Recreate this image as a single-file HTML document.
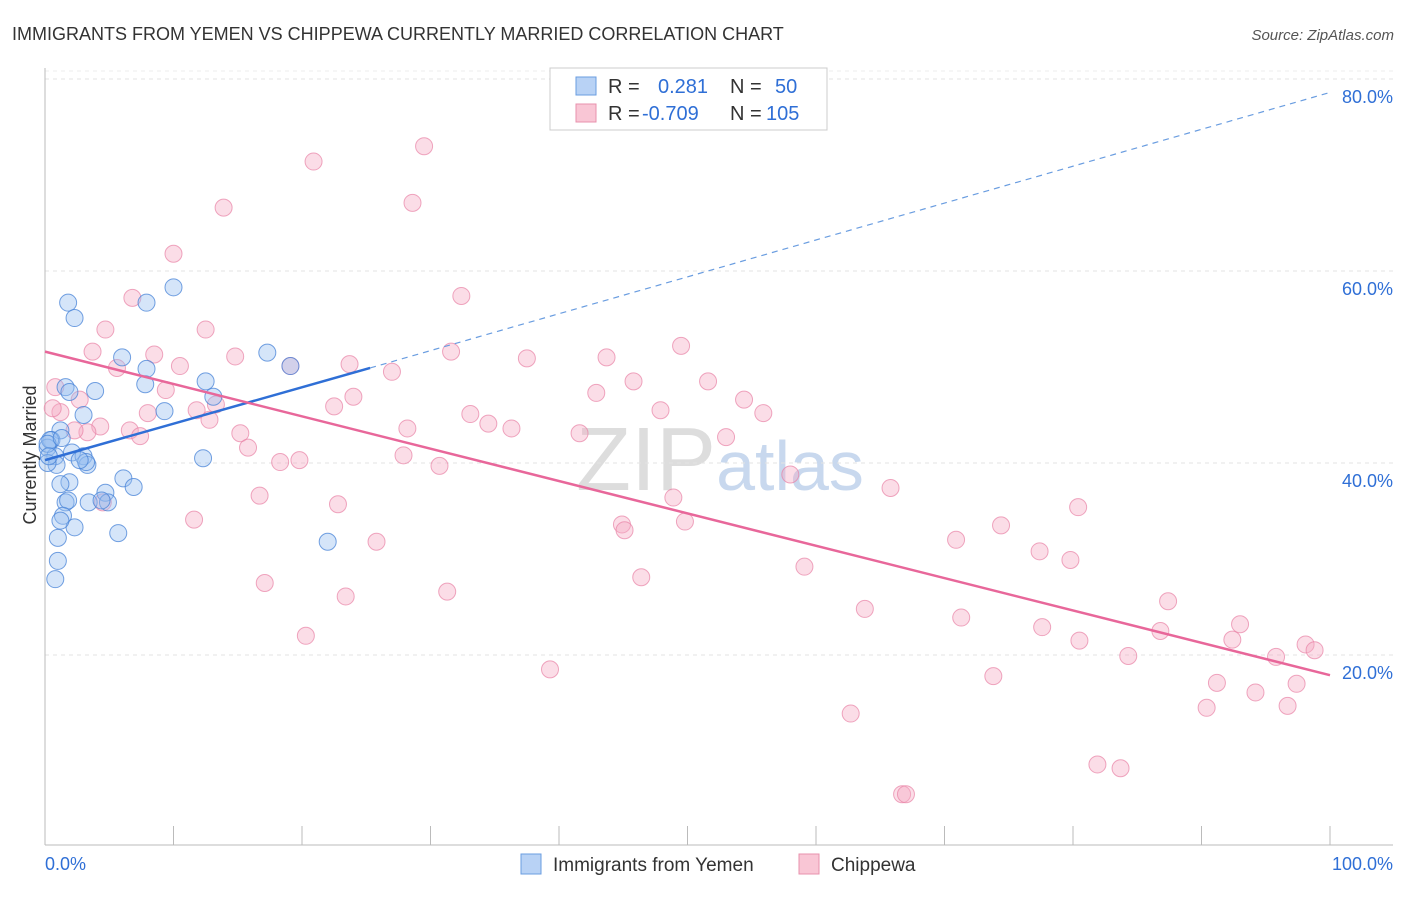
<!DOCTYPE html>
<html><head><meta charset="utf-8"><style>
body{margin:0;background:#fff;font-family:"Liberation Sans",sans-serif}
svg text{font-family:"Liberation Sans",sans-serif}
</style></head><body>
<svg width="1406" height="892" id="c">
<text x="12" y="40" font-size="18" fill="#333">IMMIGRANTS FROM YEMEN VS CHIPPEWA CURRENTLY MARRIED CORRELATION CHART</text>
<text x="1394" y="40" font-size="15" fill="#555" font-style="italic" text-anchor="end">Source: ZipAtlas.com</text>
<text x="720" y="490" font-size="90" fill="#ddd" text-anchor="middle" font-family="Liberation Serif">ZIP<tspan fill="#c8d8ee" font-family="Liberation Sans" font-size="70">atlas</tspan></text>
<g id="grid"></g>
<g id="pts"></g>
<g id="lines"></g>
<text x="36" y="455" font-size="18" fill="#333" text-anchor="middle" transform="rotate(-90 36 455)">Currently Married</text>
<g>
<rect x="550" y="68" width="277" height="62" fill="#fff" stroke="#ccc"/>
<rect x="576" y="77" width="20" height="18" fill="#b8d2f5" stroke="#6a9de0"/>
<rect x="576" y="104" width="20" height="18" fill="#f9c6d5" stroke="#e891ad"/>
<text x="608" y="93" font-size="20" fill="#333">R = <tspan fill="#2f6fd6" x="658">0.281</tspan><tspan x="730" fill="#333">N =</tspan><tspan x="775" fill="#2f6fd6">50</tspan></text>
<text x="608" y="120" font-size="20" fill="#333">R = <tspan fill="#2f6fd6" x="642">-0.709</tspan><tspan x="730" fill="#333">N =</tspan><tspan x="766" fill="#2f6fd6">105</tspan></text>
</g>
<g>
<rect x="521" y="854" width="20" height="20" fill="#b8d2f5" stroke="#6a9de0"/>
<text x="553" y="871" font-size="19" fill="#333">Immigrants from Yemen</text>
<rect x="799" y="854" width="20" height="20" fill="#f9c6d5" stroke="#e891ad"/>
<text x="831" y="871" font-size="19" fill="#333">Chippewa</text>
</g>
</svg>
<script>
const yTicks=[20,40,60,80];
const yTickLabels=["20.0%","40.0%","60.0%","80.0%"];
const xTicks=[0,10,20,30,40,50,60,70,80,90,100];
const xEndLabels=["0.0%","100.0%"];
const yemenX=[1.8,2.3,7.9,10.0,6.0,17.3,19.1,7.9,7.8,12.5,13.1,3.9,1.6,1.9,3.0,9.3,1.2,0.5,0.2,0.8,2.1,3.0,3.3,3.2,0.9,0.2,12.3,6.1,6.9,1.9,1.2,4.7,4.9,3.4,1.6,1.8,1.4,2.3,1.2,5.7,1.0,22.0,1.0,0.8,0.4,0.2,0.3,2.7,4.4,1.3];
const yemenY=[56.7,55.1,56.7,58.3,51.0,51.5,50.1,49.8,48.2,48.5,46.9,47.5,47.9,47.4,45.0,45.4,43.4,42.4,41.6,40.7,41.1,40.7,39.8,40.1,39.8,40.0,40.5,38.4,37.5,38.0,37.8,36.9,35.9,35.9,35.9,36.1,34.5,33.3,34.0,32.7,32.2,31.8,29.8,27.9,42.4,42.0,40.7,40.3,36.1,42.6];
const chipX=[29.5,20.9,28.6,13.9,10.0,32.4,6.8,4.7,12.5,3.7,8.5,14.8,10.5,5.6,19.1,23.7,27.0,31.6,37.5,43.7,49.5,42.9,45.8,51.6,54.4,55.9,47.9,33.1,34.5,36.3,24.0,22.5,13.3,11.8,12.8,9.4,8.0,6.6,7.4,4.3,3.3,2.3,1.2,0.8,0.6,2.7,15.2,15.8,28.2,18.3,19.8,27.9,30.7,41.6,53.0,58.0,65.8,48.9,44.9,45.1,49.8,16.7,22.8,11.6,4.5,25.8,70.9,74.4,80.4,77.4,79.8,59.1,46.4,17.1,23.4,31.3,20.3,63.8,71.3,77.6,80.5,87.4,86.8,93.0,92.4,84.3,95.8,98.1,98.8,73.8,39.3,91.2,94.2,97.4,90.4,96.7,62.7,81.9,83.7,66.7,67.0];
const chipY=[73.0,71.4,67.1,66.6,61.8,57.4,57.2,53.9,53.9,51.6,51.3,51.1,50.1,49.9,50.1,50.3,49.5,51.6,50.9,51.0,52.2,47.3,48.5,48.5,46.6,45.2,45.5,45.1,44.1,43.6,46.9,45.9,46.1,45.5,44.5,47.6,45.2,43.4,42.8,43.8,43.2,43.4,45.3,47.9,45.7,46.6,43.1,41.6,43.6,40.1,40.3,40.8,39.7,43.1,42.7,38.8,37.4,36.4,33.6,33.0,33.9,36.6,35.7,34.1,35.9,31.8,32.0,33.5,35.4,30.8,29.9,29.2,28.1,27.5,26.1,26.6,22.0,24.8,23.9,22.9,21.5,25.6,22.5,23.2,21.6,19.9,19.8,21.1,20.5,17.8,18.5,17.1,16.1,17.0,14.5,14.7,13.9,8.6,8.2,5.5,5.5];
const yemenTrend=[40.3,49.9,78.6]; // at x=0, x=25.3, x=100
const yemenTrendX=[0,25.3,100];
const chipTrend=[51.6,17.9];
const chipTrendX=[0,100];
const NS="http://www.w3.org/2000/svg";
const X=v=>45+v*12.85, Y=v=>847-v*9.6;
function mk(tag,attrs,parent){const e=document.createElementNS(NS,tag);for(const k in attrs)e.setAttribute(k,attrs[k]);parent.appendChild(e);return e;}
const grid=document.getElementById('grid');
yTicks.forEach((t,i)=>{
 const l=mk('line',{x1:45,x2:1393,y1:Y(t),y2:Y(t),stroke:'#e3e3e3','stroke-dasharray':'4 4'},grid);
 
 
 const tx=mk('text',{x:1393,y:Y(t)+24,'font-size':18,fill:'#2f6fd6','text-anchor':'end'},grid);
 tx.textContent=yTickLabels[i];
 
 
});
mk('line',{x1:45,x2:1393,y1:Y(80)-8,y2:Y(80)-8,stroke:'#eee','stroke-dasharray':'4 4'},grid);
const ax=mk('line',{x1:45,x2:1393,y1:845,y2:845,stroke:'#bbb'},grid);


const ay=mk('line',{x1:45,x2:45,y1:68,y2:845,stroke:'#bbb'},grid);


xTicks.forEach(t=>{
 const l=mk('line',{x1:X(t),x2:X(t),y1:826,y2:845,stroke:'#bbb'},grid);
 
 
});
[[0,'start'],[100,'end']].forEach((p,i)=>{
 const tx=mk('text',{x:i?1393:45,y:870,'font-size':18,fill:'#2f6fd6','text-anchor':p[1]},grid);
 tx.textContent=xEndLabels[i];
 
 
});
const pts=document.getElementById('pts');
chipX.forEach((x,i)=>{
 const c=mk('circle',{cx:X(x),cy:Y(chipY[i]),r:8.5,fill:'rgba(246,170,195,0.4)',stroke:'rgba(232,130,165,0.7)','stroke-width':1},pts);
 
 
});
yemenX.forEach((x,i)=>{
 const c=mk('circle',{cx:X(x),cy:Y(yemenY[i]),r:8.5,fill:'rgba(150,190,240,0.4)',stroke:'rgba(70,130,215,0.75)','stroke-width':1},pts);
 
 
});
const lines=document.getElementById('lines');
const b1=mk('line',{x1:X(yemenTrendX[0]),y1:Y(yemenTrend[0]),x2:X(yemenTrendX[1]),y2:Y(yemenTrend[1]),stroke:'#2f6fd6','stroke-width':2.5},lines);


const b2=mk('line',{x1:X(yemenTrendX[1]),y1:Y(yemenTrend[1]),x2:X(yemenTrendX[2]),y2:Y(yemenTrend[2]),stroke:'#6a9de0','stroke-width':1.2,'stroke-dasharray':'6 5'},lines);


const p1=mk('line',{x1:X(chipTrendX[0]),y1:Y(chipTrend[0]),x2:X(chipTrendX[1]),y2:Y(chipTrend[1]),stroke:'#e8679a','stroke-width':2.5},lines);


</script>
</body></html>
